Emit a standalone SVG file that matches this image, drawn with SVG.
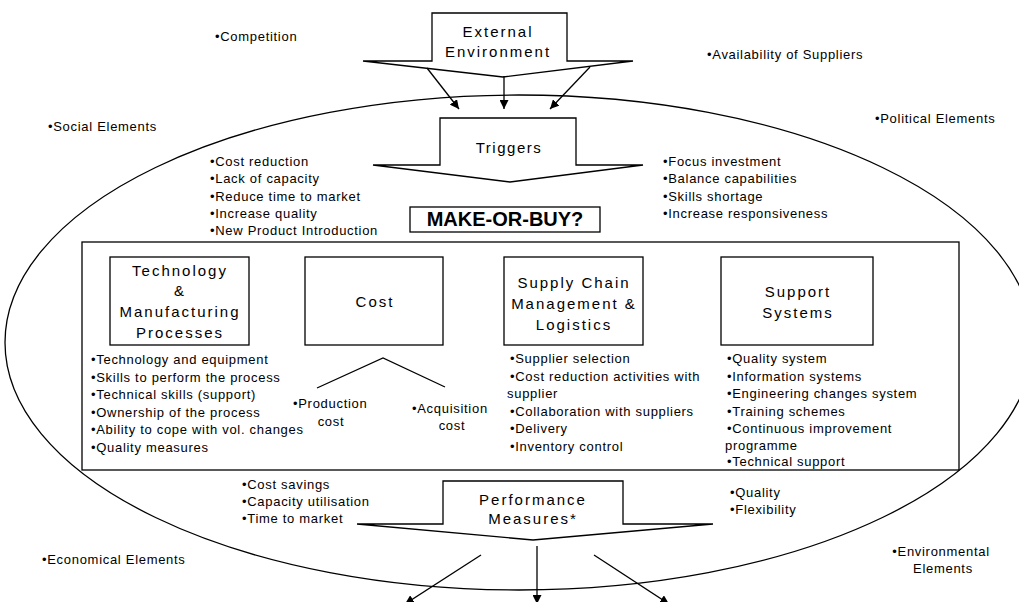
<svg xmlns="http://www.w3.org/2000/svg" width="1019" height="602" viewBox="0 0 1019 602">
  <style>
    .ln { fill: none; stroke: #000; stroke-width: 1.3; }
    .sh { fill: #fff; stroke: #000; stroke-width: 1.3; stroke-linejoin: miter; }
    .t { font-family: "Liberation Sans", Arial, sans-serif; font-size: 13px; letter-spacing: 0.7px; fill: #000; }
    .h { font-family: "Liberation Sans", Arial, sans-serif; font-size: 15px; letter-spacing: 2px; fill: #000; text-anchor: middle; }
    .mid { text-anchor: middle; }
    .big { font-family: "Liberation Sans", Arial, sans-serif; font-size: 20px; font-weight: bold; fill: #000; text-anchor: middle; }
  </style>
  <defs>
    <marker id="head" viewBox="0 0 10 10" refX="10" refY="5" markerWidth="9" markerHeight="9" markerUnits="userSpaceOnUse" orient="auto">
      <path d="M0,0 L10,5 L0,10 z" fill="#000"/>
    </marker>
  </defs>
  <rect width="1019" height="602" fill="#fff"/>

  <!-- surrounding environment -->
  <g id="environment">
    <ellipse class="ln" cx="519" cy="342.5" rx="514" ry="247.5"/>
    <text class="t" x="215" y="41">•Competition</text>
    <text class="t" x="707" y="59">•Availability of Suppliers</text>
    <text class="t" x="48" y="131">•Social Elements</text>
    <text class="t" x="875" y="123">•Political Elements</text>
    <text class="t" x="42" y="564">•Economical Elements</text>
    <text class="t mid" x="941" y="556">•Environmental</text>
    <text class="t mid" x="943" y="573">Elements</text>
  </g>

  <!-- external environment block arrow -->
  <g id="external">
    <polygon class="sh" points="363,61 432,61 432,13 567,13 567,61 633,61 503,77"/>
    <text class="h" x="498" y="37">External</text>
    <text class="h" x="498" y="57">Environment</text>
  </g>

  <!-- triggers block arrow -->
  <g id="triggers">
    <polygon class="sh" points="373,165 440,165 440,118 576,118 576,165 643,165 510,182"/>
    <text class="h" x="509" y="153" style="letter-spacing:1.5px">Triggers</text>
    <text class="t" x="210" y="166">•Cost reduction</text>
    <text class="t" x="210" y="183">•Lack of capacity</text>
    <text class="t" x="210" y="201">•Reduce time to market</text>
    <text class="t" x="210" y="218">•Increase quality</text>
    <text class="t" x="210" y="235">•New Product Introduction</text>
    <text class="t" x="663" y="166">•Focus investment</text>
    <text class="t" x="663" y="183">•Balance capabilities</text>
    <text class="t" x="663" y="201">•Skills shortage</text>
    <text class="t" x="663" y="218">•Increase responsiveness</text>
  </g>

  <!-- decision -->
  <g id="decision">
    <rect class="sh" x="410" y="207" width="190" height="25"/>
    <text class="big" x="505" y="226">MAKE-OR-BUY?</text>
  </g>

  <!-- decision areas frame -->
  <g id="areas">
    <rect class="ln" x="82" y="242" width="877" height="228"/>
  </g>

  <g id="technology">
    <rect class="sh" x="110" y="257" width="139" height="88"/>
    <text class="h" x="180" y="276">Technology</text>
    <text class="h" x="180" y="296">&amp;</text>
    <text class="h" x="180" y="317">Manufacturing</text>
    <text class="h" x="180" y="338">Processes</text>
    <text class="t" x="91" y="364">•Technology and equipment</text>
    <text class="t" x="91" y="382">•Skills to perform the process</text>
    <text class="t" x="91" y="399">•Technical skills (support)</text>
    <text class="t" x="91" y="417">•Ownership of the process</text>
    <text class="t" x="91" y="434">•Ability to cope with vol. changes</text>
    <text class="t" x="91" y="452">•Quality measures</text>
  </g>

  <g id="cost">
    <rect class="sh" x="305" y="257" width="138" height="88"/>
    <text class="h" x="375" y="307">Cost</text>
    <polyline class="ln" points="317,388 383,358 445,387"/>
    <text class="t" x="293" y="408">•Production</text>
    <text class="t mid" x="331" y="426">cost</text>
    <text class="t" x="412" y="413">•Acquisition</text>
    <text class="t mid" x="452" y="430">cost</text>
  </g>

  <g id="supply-chain">
    <rect class="sh" x="504" y="257" width="139" height="88"/>
    <text class="h" x="574" y="288">Supply Chain</text>
    <text class="h" x="574" y="309">Management &amp;</text>
    <text class="h" x="574" y="330">Logistics</text>
    <text class="t" x="510" y="363">•Supplier selection</text>
    <text class="t" x="510" y="381">•Cost reduction activities with</text>
    <text class="t" x="507" y="398">supplier</text>
    <text class="t" x="510" y="416">•Collaboration with suppliers</text>
    <text class="t" x="510" y="433">•Delivery</text>
    <text class="t" x="510" y="451">•Inventory control</text>
  </g>

  <g id="support">
    <rect class="sh" x="721" y="257" width="152" height="88"/>
    <text class="h" x="798" y="297">Support</text>
    <text class="h" x="798" y="318">Systems</text>
    <text class="t" x="727" y="363">•Quality system</text>
    <text class="t" x="727" y="381">•Information systems</text>
    <text class="t" x="727" y="398">•Engineering changes system</text>
    <text class="t" x="727" y="416">•Training schemes</text>
    <text class="t" x="727" y="433">•Continuous improvement</text>
    <text class="t" x="725" y="450">programme</text>
    <text class="t" x="727" y="466">•Technical support</text>
  </g>

  <!-- performance measures block arrow -->
  <g id="performance">
    <polygon class="sh" points="357,524 443,524 443,481 623,481 623,524 713,524 533,540"/>
    <text class="h" x="533" y="505">Performance</text>
    <text class="h" x="533" y="524">Measures*</text>
    <text class="t" x="242" y="489">•Cost savings</text>
    <text class="t" x="242" y="506">•Capacity utilisation</text>
    <text class="t" x="242" y="523">•Time to market</text>
    <text class="t" x="730" y="497">•Quality</text>
    <text class="t" x="730" y="514">•Flexibility</text>
  </g>

  <!-- connectors -->
  <g id="connectors">
    <line class="ln" x1="427" y1="68" x2="459" y2="109" marker-end="url(#head)"/>
    <line class="ln" x1="504" y1="76" x2="504" y2="109" marker-end="url(#head)"/>
    <line class="ln" x1="590" y1="67" x2="550" y2="109" marker-end="url(#head)"/>
    <line class="ln" x1="481" y1="555" x2="405" y2="604" marker-end="url(#head)"/>
    <line class="ln" x1="537" y1="546" x2="537" y2="604" marker-end="url(#head)"/>
    <line class="ln" x1="594" y1="555" x2="669" y2="604" marker-end="url(#head)"/>
  </g>
</svg>
